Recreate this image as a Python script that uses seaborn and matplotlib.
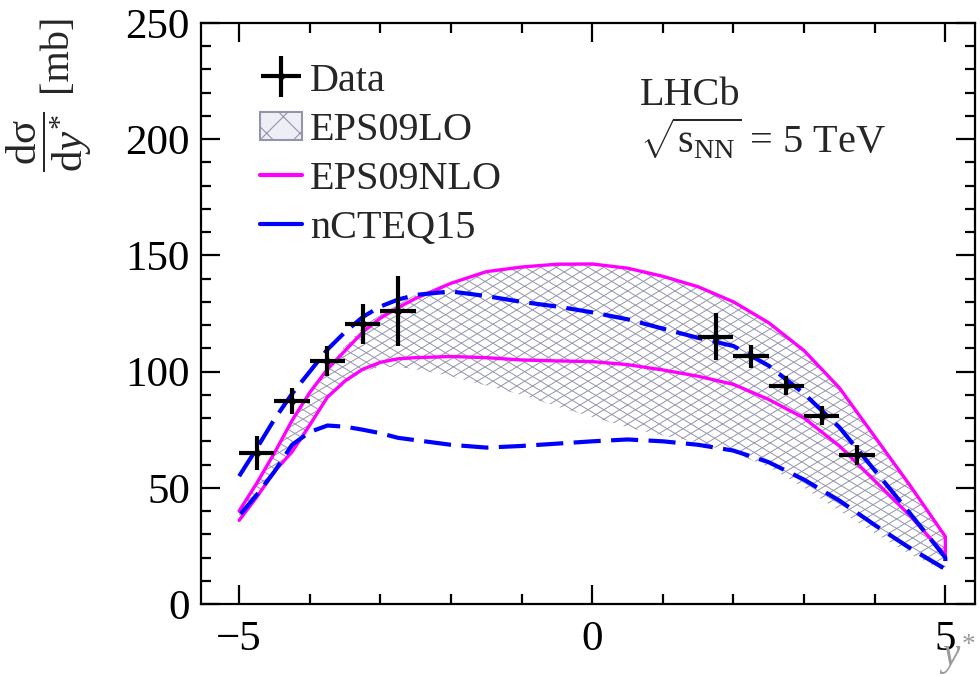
import numpy as np
import pandas as pd
import matplotlib
matplotlib.use("Agg")
import matplotlib.pyplot as plt
import seaborn as sns
from matplotlib.patches import Patch
from matplotlib.lines import Line2D
from matplotlib.collections import LineCollection

# ---------------- data ----------------
data_x = [-4.75, -4.25, -3.75, -3.25, -2.75, 1.75, 2.25, 2.75, 3.25, 3.75]
data_y = [65.0, 87.5, 104.5, 120.5, 126.0, 115.0, 106.5, 94.0, 81.0, 64.0]
data_yerr = [7.2, 5.6, 6.5, 8.6, 15.1, 10.0, 5.0, 4.0, 4.0, 4.3]
data_xerr = [0.25] * 10

curve_x = [-5.0, -4.75, -4.5, -4.25, -4.0, -3.75, -3.5, -3.25, -3.0, -2.75,
           -2.5, -2.0, -1.5, -1.0, -0.5, 0.0, 0.5, 1.0, 1.5, 2.0, 2.5, 3.0,
           3.5, 4.0, 4.5, 5.0]
eps09nlo_hi = [40, 52, 65, 79, 91, 101, 109, 117, 123, 127.5,
               131.5, 138, 143, 145, 146.2, 146.3, 144.5, 141, 136.5, 130,
               121, 109, 93, 72, 51, 29]
eps09nlo_lo = [36, 46, 57, 65.5, 77, 89, 96, 101, 104, 105.5,
               106, 106.5, 106, 105, 104.6, 104.3, 103, 100.7, 98, 94.5,
               88, 80, 68, 53, 38, 21]
ncteq_hi = [55, 67, 79.5, 90.5, 100, 109.5, 117, 123.5, 128, 131,
            133, 134.5, 132.5, 130, 128, 125.5, 122.5, 118.5, 114.5, 111,
            102.5, 90.5, 76, 57.5, 39, 20]
ncteq_lo = [38, 47, 57, 68.5, 74, 76.8, 76.3, 75, 73.5, 71.5,
            70.5, 68.5, 67.3, 68, 69, 70, 70.8, 70, 68.5, 66,
            61, 53.5, 44.5, 34, 24, 15]
eps09lo_hi = [41, 53, 66, 80, 92, 102, 111, 119, 125, 129.5,
              133, 138, 143, 145, 146.2, 146.3, 144.5, 141, 136.5, 130,
              121, 109, 93, 72, 51, 29]
eps09lo_lo = [36, 46, 56, 65, 76, 88, 95, 100, 102, 102,
              101, 98, 94, 90, 85, 80.5, 76, 72.5, 69.5, 65,
              59, 50, 40, 30.5, 21.5, 14]

xticks = [-5, 0, 5]
yticks = [0, 50, 100, 150, 200, 250]

# ---------------- style ----------------
sns.set_style("ticks")
plt.rcParams["font.family"] = ["Liberation Serif", "DejaVu Serif"]
plt.rcParams["mathtext.fontset"] = "custom"
plt.rcParams["mathtext.rm"] = "Liberation Serif"
plt.rcParams["mathtext.it"] = "Liberation Serif:italic"
plt.rcParams["mathtext.bf"] = "Liberation Serif:bold"
plt.rcParams["hatch.linewidth"] = 0.8

MAG = "#ff00ff"
BLUE = "#0000ff"
HATCH = "#9494ac"

fig = plt.figure(figsize=(9.8, 6.76), dpi=100)
ax = fig.add_axes([0.2051, 0.1065, 0.7898, 0.8595])
ax.set_xlim(-5.54, 5.42)
ax.set_ylim(0, 250)

df = pd.DataFrame({"x": curve_x, "nlo_hi": eps09nlo_hi, "nlo_lo": eps09nlo_lo,
                   "nc_hi": ncteq_hi, "nc_lo": ncteq_lo,
                   "lo_hi": eps09lo_hi, "lo_lo": eps09lo_lo})

# EPS09LO band: invisible fill used as clip region for a ROOT-like hatch
band = ax.fill_between(df["x"], df["lo_lo"], df["lo_hi"], facecolor="none",
                       edgecolor="none", linewidth=0)
# hatch lines in pixel space: slope +-0.6, vertical spacing 9 px
fig.canvas.draw()
x0p, y0p = ax.transData.transform((-5.54, 0))
x1p, y1p = ax.transData.transform((5.42, 250))
segs = []
spacing = 9.5
slope = 0.6
W = x1p - x0p
for c in np.arange(y0p - slope * W - 20, y1p + slope * W + 20, spacing):
    segs.append([(x0p, c), (x1p, c + slope * W)])
    segs.append([(x0p, c + slope * W), (x1p, c)])
lc = LineCollection(segs, colors=HATCH, linewidths=0.7, transform=None)
ax.add_collection(lc)
paths = band.get_paths()
lc.set_clip_path(paths[0], ax.transData)

# closed outlines of the model bands
def outline(hi, lo):
    return pd.DataFrame({"x": list(curve_x) + list(curve_x[::-1]),
                         "y": list(hi) + list(lo[::-1])})

sns.lineplot(data=outline(eps09nlo_hi, eps09nlo_lo), x="x", y="y", sort=False,
             ax=ax, color=MAG, lw=2.4, legend=False, estimator=None)
sns.lineplot(data=outline(ncteq_hi, ncteq_lo), x="x", y="y", sort=False,
             ax=ax, color=BLUE, lw=3.0, legend=False, estimator=None)
ax.lines[-1].set_dashes([6.5, 2.5])

# Data
eb = ax.errorbar(data_x, data_y, xerr=data_xerr, yerr=data_yerr, fmt="o",
                 color="black", ms=4, elinewidth=3.0, capsize=0, zorder=5)

# ---------------- axes ----------------
ax.set_xlim(-5.54, 5.42)
ax.set_ylim(0, 250)
ax.set_xticks(xticks)
ax.set_yticks(yticks)
ax.set_xticklabels(["\u22125", "0", "5"])
ax.xaxis.set_minor_locator(matplotlib.ticker.MultipleLocator(1))
ax.yaxis.set_minor_locator(matplotlib.ticker.MultipleLocator(10))
ax.tick_params(which="both", direction="in", top=True, right=True,
               labelsize=31, width=1.6, colors="black", pad=8)
ax.tick_params(which="major", length=14)
ax.tick_params(which="minor", length=7)
ax.tick_params(axis="x", which="major", pad=12)
for s in ax.spines.values():
    s.set_linewidth(1.6)
    s.set_color("black")
ax.set_xlabel("")
ax.set_ylabel("")

# y-axis title: fraction + unit
fig.text(0.05, 0.79, r"$\dfrac{\mathrm{d}\mathrm{σ}}{\mathrm{d}y^{*}}$",
         rotation=90, ha="center", va="center", fontsize=31)
fig.text(0.058, 0.922, "[mb]", rotation=90, ha="center", va="center",
         fontsize=29)

ax.text(1.0, -0.088, r"$y^{*}$", transform=ax.transAxes, ha="right",
        va="center", fontsize=28, color="#9a9a9a")

ax.text(0.567, 0.876, "LHCb", transform=ax.transAxes, fontsize=29,
        ha="left", va="center")
ax.text(0.567, 0.799, r"$\sqrt{\mathrm{s}_{\mathrm{NN}}}$ = 5 TeV",
        transform=ax.transAxes, fontsize=29, ha="left", va="center")

handles = [eb,
           Patch(facecolor="#eeeef6", edgecolor=HATCH, hatch="x", linewidth=1.5),
           Line2D([], [], color=MAG, lw=3),
           Line2D([], [], color=BLUE, lw=3)]
labels = ["Data", "EPS09LO", "EPS09NLO", "nCTEQ15"]
ax.legend(handles, labels, loc="upper left", bbox_to_anchor=(0.055, 0.96),
          frameon=False, fontsize=29, handlelength=1.05, handletextpad=0.2,
          labelspacing=0.3, borderaxespad=0)

fig.savefig("out.png", dpi=100)
